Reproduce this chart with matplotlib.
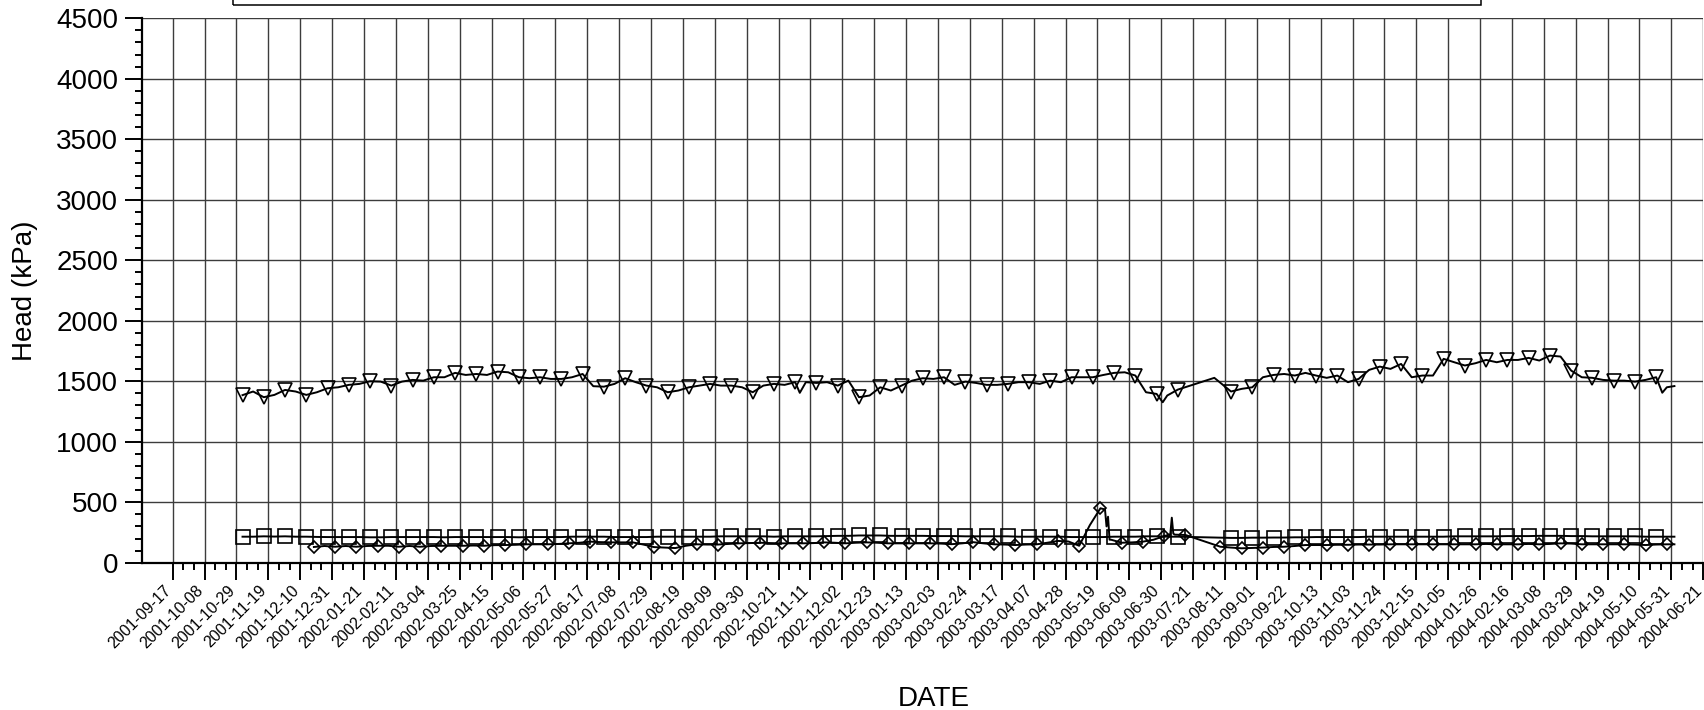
import numpy as np
import pandas as pd
import matplotlib
matplotlib.use("Agg")
import matplotlib.pyplot as plt
import matplotlib.dates as mdates
from matplotlib.ticker import MultipleLocator, FixedLocator, NullFormatter
from matplotlib.patches import Rectangle
from matplotlib.transforms import ScaledTranslation, blended_transform_factory

plt.rcParams['font.family'] = ['Liberation Sans', 'DejaVu Sans']

# ---------------- data ----------------
# tick labels: every 21 days
tick_start = '2001-09-17'
tick_end = '2004-06-21'

# Series 1 (triangles): weekly readings before and after the July/Aug 2003 gap
tri_pre_start = '2001-11-02'
tri_pre_vals = [1385, 1415, 1368, 1387, 1428, 1415, 1387, 1409, 1442, 1450,
                1470, 1478, 1500, 1497, 1464, 1497, 1511, 1505, 1533, 1533,
                1569, 1552, 1560, 1552, 1580, 1574, 1533, 1525, 1533, 1519,
                1519, 1533, 1560, 1459, 1455, 1478, 1525, 1492, 1464, 1450,
                1409, 1423, 1450, 1464, 1478, 1464, 1464, 1450, 1409, 1464,
                1478, 1470, 1492, 1492, 1486, 1492, 1464, 1505, 1368, 1382,
                1450, 1423, 1464, 1505, 1525, 1519, 1533, 1470, 1497, 1486,
                1470, 1470, 1478, 1492, 1492, 1478, 1505, 1492, 1533, 1533,
                1533, 1552, 1569, 1574, 1547, 1409, 1395, 1382, 1431]
tri_post_start = '2003-08-15'
tri_post_vals = [1415, 1437, 1450, 1533, 1552, 1560, 1547, 1569, 1547, 1528,
                 1547, 1492, 1519, 1594, 1621, 1602, 1643, 1533, 1547, 1547,
                 1685, 1657, 1630, 1649, 1676, 1657, 1676, 1676, 1693, 1671,
                 1712, 1704, 1588, 1533, 1528, 1511, 1505, 1505, 1497, 1511,
                 1533, 1450]
tri_extra_dates = ['2002-11-04', '2003-07-01', '2003-08-04', '2004-05-25', '2004-06-02']
tri_extra_vals = [1404, 1326, 1528, 1405, 1460]

# Series 2 (squares)
sq_pre_start = '2001-11-02'
sq_pre_vals = [215, 215, 218, 216, 218, 215, 215, 213, 212, 212,
               212, 212, 210, 210, 212, 212, 212, 212, 212, 210,
               212, 212, 212, 212, 212, 212, 210, 212, 212, 212,
               212, 215, 215, 215, 215, 212, 212, 212, 212, 215,
               215, 215, 215, 215, 215, 218, 218, 218, 218, 218,
               215, 218, 218, 218, 218, 220, 222, 222, 225, 225,
               225, 222, 222, 222, 222, 220, 220, 220, 218, 218,
               218, 218, 218, 215, 215, 215, 215, 215, 212, 212,
               212, 212, 215, 215, 215, 218, 218, 215, 215]
sq_post_start = '2003-08-15'
sq_post_vals = [205, 205, 207, 207, 208, 208, 210, 210, 212, 212,
                212, 212, 212, 215, 215, 215, 215, 215, 215, 215,
                215, 218, 218, 218, 218, 218, 220, 220, 220, 222,
                222, 222, 220, 220, 218, 218, 218, 218, 218, 215,
                215, 215]
sq_extra_dates = ['2004-06-02']
sq_extra_vals = [215]

# Series 3 (diamonds)
dm_pre_start = '2001-12-19'
dm_pre_vals = [130, 138, 132, 138, 132, 138, 140, 140, 132, 138,
               132, 138, 140, 140, 140, 142, 140, 145, 146, 148,
               152, 152, 152, 155, 160, 165, 174, 170, 168, 168,
               168, 150, 129, 125, 121, 140, 152, 150, 150, 155,
               160, 162, 165, 162, 160, 160, 160, 162, 168, 165,
               160, 165, 168, 165, 160, 160, 160, 160, 160, 158,
               153, 160, 170, 160, 152, 150, 146, 150, 152, 165,
               180, 175, 140, 310, 450, 190, 165, 168, 174, 190,
               220, 232, 229]
dm_post_start = '2003-08-08'
dm_post_vals = [132, 125, 119, 122, 125, 130, 132, 138, 146, 146,
                146, 148, 148, 150, 150, 150, 152, 152, 152, 152,
                152, 152, 152, 152, 152, 155, 152, 152, 152, 155,
                152, 155, 160, 158, 152, 152, 152, 152, 152, 150,
                146, 150, 152]
dm_extra_dates = ['2003-05-24', '2003-05-25', '2003-05-26', '2003-05-27',
                  '2003-07-06', '2003-07-07', '2003-07-08', '2004-06-02']
dm_extra_vals = [440, 300, 380, 190, 235, 372, 240, 152]


def weekly(start, vals):
    return pd.date_range(start, periods=len(vals), freq='7D'), np.asarray(vals, float)


def assemble(pre_start, pre_vals, post_start, post_vals, ex_dates, ex_vals):
    d1, v1 = weekly(pre_start, pre_vals)
    d2, v2 = weekly(post_start, post_vals)
    d3 = pd.to_datetime(ex_dates)
    v3 = np.asarray(ex_vals, float)
    s = pd.Series(np.concatenate([v1, v2, v3]),
                  index=d1.append(d2).append(d3)).sort_index()
    mk_d = d1[::2].append(d2[::2])
    mk_v = np.concatenate([v1[::2], v2[::2]])
    return s.index, s.values, mk_d, mk_v


# ---------------- figure ----------------
W, H = 1704, 710
fig = plt.figure(figsize=(W / 100, H / 100), dpi=100)
ax = fig.add_axes([141.7 / W, (H - 562.7) / H, 1561.6 / W, 544.4 / H])

series = [
    (assemble(tri_pre_start, tri_pre_vals, tri_post_start, tri_post_vals,
              tri_extra_dates, tri_extra_vals), 'v', 10),
    (assemble(sq_pre_start, sq_pre_vals, sq_post_start, sq_post_vals,
              sq_extra_dates, sq_extra_vals), 's', 9.5),
    (assemble(dm_pre_start, dm_pre_vals, dm_post_start, dm_post_vals,
              dm_extra_dates, dm_extra_vals), 'D', 6.6),
]
for (d, v, md, mv), mk, ms in series:
    ax.plot(d, v, color='black', lw=1.4, zorder=3)
    ax.plot(md, mv, linestyle='none', marker=mk, ms=ms, mfc='none',
            mec='black', mew=1.2, zorder=4)

ticks = pd.date_range(tick_start, tick_end, freq='21D')
minor = pd.date_range(tick_start, tick_end, freq='7D')
t0 = mdates.date2num(pd.Timestamp(tick_start))
ax.set_xlim(t0 - 20.39, mdates.date2num(pd.Timestamp(tick_end)) + 0.02)
ax.set_ylim(0, 4500)

ax.xaxis.set_major_locator(FixedLocator(mdates.date2num(ticks)))
ax.xaxis.set_minor_locator(FixedLocator(mdates.date2num(minor)))
ax.xaxis.set_major_formatter(NullFormatter())

# rotated date labels, placed just below the tick ends
lbl_tr = blended_transform_factory(ax.transData, ax.transAxes) + \
    ScaledTranslation(-4 / 100, -25.5 / 100, fig.dpi_scale_trans)
for t in ticks:
    ax.text(mdates.date2num(t), 0, t.strftime('%Y-%m-%d'), transform=lbl_tr,
            rotation=45, rotation_mode='anchor', ha='right', va='center',
            fontsize=11.4, clip_on=False)

ax.yaxis.set_major_locator(MultipleLocator(500))
ax.yaxis.set_minor_locator(MultipleLocator(100))

ax.tick_params(axis='both', which='major', direction='out', length=12,
               width=1.4, color='black')
ax.tick_params(axis='both', which='minor', direction='out', length=5,
               width=1.4, color='black')
ax.tick_params(axis='y', which='major', labelsize=20, pad=5)

ax.grid(True, which='major', color='#3c3c3c', lw=1.0)
ax.set_axisbelow(True)
for side in ('top', 'right'):
    ax.spines[side].set_visible(False)
for side in ('left', 'bottom'):
    ax.spines[side].set_linewidth(1.6)

ax.set_xlabel('DATE', fontsize=20)
ax.xaxis.set_label_coords(0.5074, -0.226)
ax.set_ylabel('Head (kPa)', fontsize=20)
ax.yaxis.set_label_coords(-0.0665, 0.5)

# legend frame (mostly above the visible area)
fig.patches.append(Rectangle((233 / W, (H - 4.5) / H), (1481 - 233) / W, 0.3,
                             fill=False, lw=1.1, edgecolor='black',
                             transform=fig.transFigure, clip_on=False))

fig.savefig('out.png', dpi=100)
